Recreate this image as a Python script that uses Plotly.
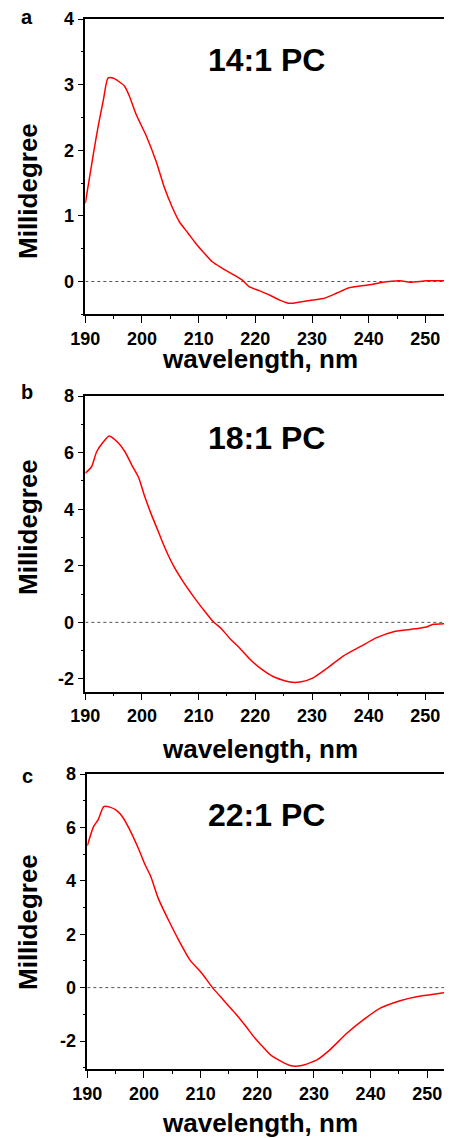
import plotly.graph_objects as go

# CD spectra (wavelength in nm, signal in millidegree)
wl_14 = [190, 191.4, 192.3, 193.2, 194.0, 194.9, 196.9, 197.8, 199.0, 200.8,
         202.5, 204.0, 205.4, 206.6, 208.1, 209.5, 211.0, 212.4, 214.2, 216.0,
         217.7, 218.9, 220.7, 222.6, 224.2, 225.8, 226.7, 229.6, 232.0, 234.3,
         236.4, 238.5, 240.2, 242.0, 245.5, 247.3, 250.2, 252.5, 255]
mdeg_14 = [1.19, 1.93, 2.38, 2.77, 3.10, 3.10, 2.98, 2.82, 2.54, 2.21,
           1.83, 1.42, 1.12, 0.91, 0.74, 0.58, 0.43, 0.30, 0.20, 0.11,
           0.02, -0.08, -0.14, -0.21, -0.28, -0.33, -0.33, -0.29, -0.26, -0.18,
           -0.10, -0.07, -0.05, -0.02, 0.01, -0.01, 0.01, 0.01, 0.02]

wl_18 = [190, 191.1, 192.0, 193.2, 194.2, 195.8, 197.0, 198.2, 199.4, 200.5,
         201.7, 202.9, 204.1, 205.5, 207.0, 209.1, 210.8, 212.6, 214.1, 215.5,
         217.3, 219.1, 220.8, 223.2, 226.1, 227.9, 230.2, 232.6, 235.5, 238.5,
         241.4, 244.4, 247.3, 250.2, 251.4, 255]
mdeg_18 = [5.27, 5.50, 6.03, 6.38, 6.59, 6.35, 6.03, 5.56, 5.12, 4.44,
           3.79, 3.20, 2.61, 2.02, 1.52, 0.91, 0.46, 0.02, -0.24, -0.57,
           -0.92, -1.31, -1.61, -1.92, -2.11, -2.11, -1.96, -1.63, -1.19, -0.86,
           -0.54, -0.33, -0.25, -0.16, -0.07, -0.04]

wl_22 = [190, 191.1, 191.9, 192.9, 194.0, 195.2, 196.2, 197.5, 199.0, 200.2,
         201.2, 202.5, 204.3, 206.1, 208.1, 210.2, 212.1, 214.0, 216.1, 217.8,
         219.6, 220.5, 222.5, 225.8, 227.8, 230.5, 232.8, 235.8, 238.7, 241.7,
         245.2, 248.1, 251.1, 254.3, 255]
mdeg_22 = [5.31, 6.03, 6.28, 6.78, 6.76, 6.63, 6.40, 5.91, 5.22, 4.60,
           4.16, 3.35, 2.54, 1.79, 1.04, 0.54, 0.0, -0.46, -0.96, -1.40,
           -1.90, -2.11, -2.55, -2.92, -2.92, -2.71, -2.33, -1.71, -1.21, -0.77,
           -0.49, -0.34, -0.25, -0.15, -0.14]

x_ticks = [190, 200, 210, 220, 230, 240, 250]
y_ticks_a = [0, 1, 2, 3, 4]
y_ticks_bc = [-2, 0, 2, 4, 6, 8]

panels = ["a", "b", "c"]
titles = ["14:1 PC", "18:1 PC", "22:1 PC"]

FONT = "Liberation Sans, Arial, sans-serif"
# the page body keeps its default 8px margin, so the figure is drawn 8px in
OFF = 8
W, H = 452 - OFF, 1138 - OFF


def px(x):
    return (x - OFF) / W


def py(y):
    return 1 - (y - OFF) / H


fig = go.Figure()

series = [(wl_14, mdeg_14), (wl_18, mdeg_18), (wl_22, mdeg_22)]
for i, (wl, md) in enumerate(series):
    ax = "" if i == 0 else str(i + 1)
    # dotted zero reference
    fig.add_trace(go.Scatter(x=[190, 255], y=[0, 0], mode="lines",
                             line=dict(color="#555555", width=1, dash="dot"),
                             xaxis="x" + ax, yaxis="y" + ax, showlegend=False,
                             hoverinfo="skip"))
    fig.add_trace(go.Scatter(x=wl, y=md, mode="lines",
                             line=dict(color="#ff0000", width=1.5, shape="spline", smoothing=0.6),
                             xaxis="x" + ax, yaxis="y" + ax, showlegend=False))

# pixel geometry of each panel: (left, top, bottom, x end, y range)
geom = [
    (85.3, 19, 314.3, 254.7, [-0.5, 4]),
    (85.3, 396, 691.7, 254.7, [-2.45, 8]),
    (87.3, 774, 1069.3, 254.36, [-3.06, 8]),
]

layout = dict(width=W, height=H, margin=dict(l=0, r=0, t=0, b=0, autoexpand=False),
              paper_bgcolor="white", plot_bgcolor="white", template="none",
              font=dict(family=FONT, color="black"))

for i, (left, top, bottom, xend, yr) in enumerate(geom):
    n = "" if i == 0 else str(i + 1)
    yt = y_ticks_a if i == 0 else y_ticks_bc
    layout["xaxis" + n] = dict(
        domain=[px(left), 1], range=[190, xend], anchor="y" + n, automargin=False,
        tickmode="array", tickvals=x_ticks, ticktext=[str(t) for t in x_ticks],
        ticks="outside", ticklen=7, tickwidth=1.2, tickcolor="black",
        showline=True, linecolor="black", linewidth=1.5, mirror=True,
        showgrid=False, zeroline=False,
        tickfont=dict(size=18, family=FONT, weight="bold"),
        minor=dict(tickmode="linear", tick0=195, dtick=10, ticks="outside",
                   ticklen=3, tickcolor="black", tickwidth=1.2),
    )
    layout["yaxis" + n] = dict(
        domain=[py(bottom), py(top)], range=yr, anchor="x" + n, automargin=False,
        tickmode="array", tickvals=yt, ticktext=[str(t) for t in yt],
        ticks="outside", ticklen=6, tickwidth=1.2, tickcolor="black",
        showline=True, linecolor="black", linewidth=1.5, mirror=False,
        showgrid=False, zeroline=False,
        tickfont=dict(size=18, family=FONT, weight="bold"),
        minor=dict(tickmode="linear", tick0=(0.5 if i == 0 else 1),
                   dtick=(1 if i == 0 else 2), ticks="outside",
                   ticklen=3, tickcolor="black", tickwidth=1.2),
    )

fig.update_layout(**layout)

# text placement (pixel centres)
label_pos = [(27, 17), (27, 392), (27, 776)]
title_pos = [(266, 60), (266, 438), (266, 815)]
xlab_pos = [(260, 359), (260, 749), (260, 1123)]
ylab_pos = [(28, 191), (28, 527), (28, 922)]


def note(text, pos, size, angle=0):
    fig.add_annotation(text=text, x=px(pos[0]), y=py(pos[1]),
                       xref="paper", yref="paper", showarrow=False,
                       xanchor="center", yanchor="middle", textangle=angle,
                       font=dict(size=size, family=FONT, weight="bold"))


for i in range(3):
    note(panels[i], label_pos[i], 20)
    note(titles[i], title_pos[i], 32)
    note("wavelength, nm", xlab_pos[i], 26)
    note("Millidegree", ylab_pos[i], 26, angle=-90)

fig.write_html("out.html")
